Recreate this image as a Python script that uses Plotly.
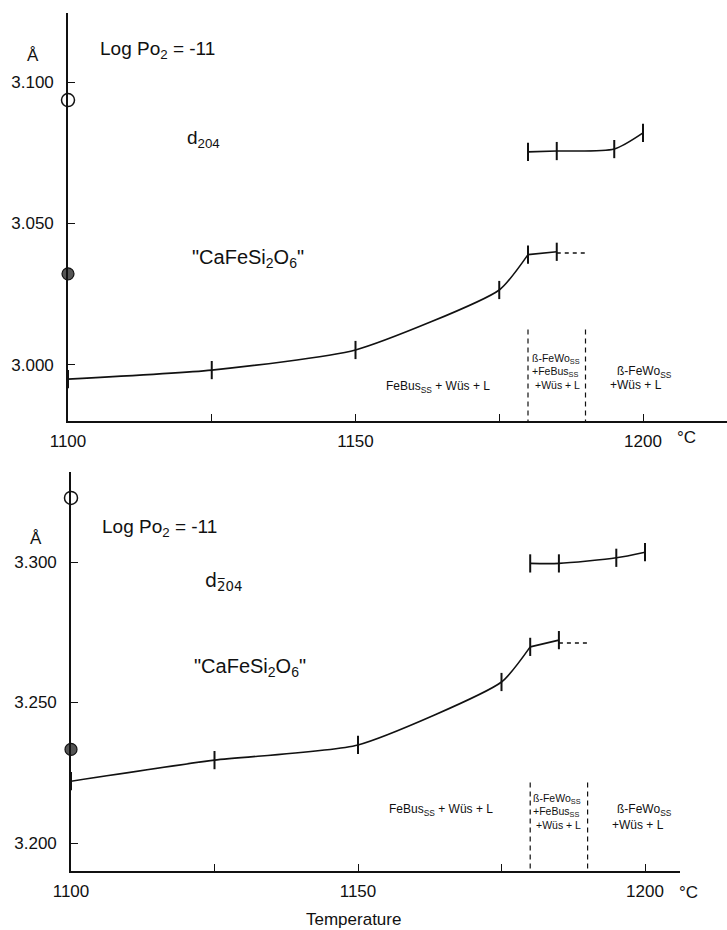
import plotly.graph_objects as go

# ---------------- data ----------------
# top panel: d204
temp_lo_top = [1100, 1125, 1150, 1175, 1180, 1185]
d204_lo = [2.995, 2.9982, 3.0053, 3.0265, 3.039, 3.040]
temp_hi_top = [1180, 1185, 1195, 1200]
d204_hi = [3.0753, 3.0756, 3.0763, 3.082]
temp_ext = [1185, 1190]
d204_ext = [3.0396, 3.0396]
d204_open = 3.0936
d204_filled = 3.0322

# bottom panel: d(-2)04
temp_lo_bot = [1100, 1125, 1150, 1175, 1180, 1185]
dm204_lo = [3.222, 3.2295, 3.2349, 3.2573, 3.2698, 3.2722]
temp_hi_bot = [1180, 1185, 1195, 1200]
dm204_hi = [3.2995, 3.2995, 3.3015, 3.3035]
dm204_ext = [3.2712, 3.2712]
dm204_open = 3.3228
dm204_filled = 3.2333

phase_bounds = [1180, 1190]
x_tickvals = [1100, 1150, 1200]
x_ticktext = ["1100", "1150", "1200"]
x_minor_vals = [1125, 1175]
y_top_vals = [3.000, 3.050, 3.100]
y_top_text = ["3.000", "3.050", "3.100"]
y_bot_vals = [3.200, 3.250, 3.300]
y_bot_text = ["3.200", "3.250", "3.300"]

W, H = 727, 930
FONT = "Liberation Sans"
BLACK = "#111111"

fig = go.Figure()

def add_panel(xa, ya, t_lo, v_lo, t_hi, v_hi, v_ext, v_open, v_filled, bound_top, y_axis_min):
    # lower curve (smooth)
    fig.add_trace(go.Scatter(x=t_lo[:5], y=v_lo[:5], mode="lines",
                             line=dict(color=BLACK, width=1.6, shape="spline", smoothing=0.55),
                             xaxis=xa, yaxis=ya, showlegend=False, hoverinfo="skip"))
    fig.add_trace(go.Scatter(x=t_lo[4:], y=v_lo[4:], mode="lines", line=dict(color=BLACK, width=1.6),
                             xaxis=xa, yaxis=ya, showlegend=False, hoverinfo="skip"))
    fig.add_trace(go.Scatter(x=temp_ext, y=v_ext, mode="lines", line=dict(color=BLACK, width=1.6, dash="4px,4px"),
                             xaxis=xa, yaxis=ya, showlegend=False, hoverinfo="skip"))
    # upper curve
    fig.add_trace(go.Scatter(x=t_hi, y=v_hi, mode="lines",
                             line=dict(color=BLACK, width=1.6, shape="spline", smoothing=0.7),
                             xaxis=xa, yaxis=ya, showlegend=False, hoverinfo="skip"))
    # error bar ticks
    fig.add_trace(go.Scatter(x=t_lo + t_hi, y=v_lo + v_hi, mode="markers",
                             marker=dict(symbol="line-ns", size=13, line=dict(color=BLACK, width=2)),
                             xaxis=xa, yaxis=ya, showlegend=False, hoverinfo="skip", cliponaxis=False))
    # start points
    fig.add_trace(go.Scatter(x=[1100], y=[v_open], mode="markers",
                             marker=dict(symbol="circle", size=13, color="white", line=dict(color=BLACK, width=1.5)),
                             xaxis=xa, yaxis=ya, showlegend=False, hoverinfo="skip", cliponaxis=False))
    fig.add_trace(go.Scatter(x=[1100], y=[v_filled], mode="markers",
                             marker=dict(symbol="circle", size=12, color="#555555", line=dict(color=BLACK, width=1.2)),
                             xaxis=xa, yaxis=ya, showlegend=False, hoverinfo="skip", cliponaxis=False))
    # phase boundaries
    for b in phase_bounds:
        fig.add_trace(go.Scatter(x=[b, b], y=[bound_top, y_axis_min], mode="lines",
                                 line=dict(color=BLACK, width=1.2, dash="5px,4px"),
                                 xaxis=xa, yaxis=ya, showlegend=False, hoverinfo="skip"))

top_ymin, top_ymax = 2.98021, 3.12438
bot_ymin, bot_ymax = 3.19004, 3.33203

add_panel("x", "y", temp_lo_top, d204_lo, temp_hi_top, d204_hi, d204_ext, d204_open, d204_filled, 3.0125, top_ymin)
add_panel("x2", "y2", temp_lo_bot, dm204_lo, temp_hi_bot, dm204_hi, dm204_ext, dm204_open, dm204_filled, 3.2215, bot_ymin)

axis_common = dict(showline=True, linecolor=BLACK, linewidth=1.6, showgrid=False, zeroline=False,
                   ticks="inside", tickcolor=BLACK, tickwidth=1.4, ticklen=7, automargin=False,
                   tickfont=dict(family=FONT, size=17, color=BLACK))
minor_x = dict(tickvals=x_minor_vals, ticks="inside", ticklen=7, tickwidth=1.4, tickcolor=BLACK, showgrid=False)

fig.update_layout(
    width=W, height=H, autosize=False,
    margin=dict(l=0, r=0, t=0, b=0, pad=0),
    paper_bgcolor="white", plot_bgcolor="white",
    xaxis=dict(domain=[68 / W, 1.0], range=[1100, 1100 + 659 / 5.75], anchor="y",
               tickvals=x_tickvals, ticktext=x_ticktext, ticklabelstandoff=4, minor=minor_x, **axis_common),
    yaxis=dict(domain=[1 - 421 / H, 1 - 13 / H], range=[top_ymin, top_ymax], anchor="x",
               tickvals=y_top_vals, ticktext=y_top_text, ticklabelstandoff=9, **axis_common),
    xaxis2=dict(domain=[71 / W, 680 / W], range=[1100, 1100 + 609 / 5.74], anchor="y2",
                tickvals=x_tickvals, ticktext=x_ticktext, ticklabelstandoff=4, minor=minor_x, **axis_common),
    yaxis2=dict(domain=[1 - 871 / H, 1 - 472 / H], range=[bot_ymin, bot_ymax], anchor="x2",
                tickvals=y_bot_vals, ticktext=y_bot_text, ticklabelstandoff=9, **axis_common),
)

def ann(text, x, y, xref, yref, size, xanchor="left", yanchor="middle", family=FONT):
    fig.add_annotation(text=text, x=x, y=y, xref=xref, yref=yref, showarrow=False,
                       xanchor=xanchor, yanchor=yanchor,
                       font=dict(family=family, size=size, color=BLACK))

SS = "<sub>SS</sub>"
PH = 12
BX = 10.5
# top panel texts
ann("Log Po<sub>2</sub> = -11", 1105.2, 3.1113, "x", "y", 19)
ann("d<sub>204</sub>", 1120.3, 3.0800, "x", "y", 19)
ann("\"CaFeSi<sub>2</sub>O<sub>6</sub>\"", 1121.2, 3.0378, "x", "y", 20)
ann("FeBus" + SS + " + Wüs + L", 1155.0, 2.9922, "x", "y", PH)
ann("ß-FeWo" + SS, 1180.3, 3.0020, "x", "y", BX)
ann("+FeBus" + SS, 1180.3, 2.9974, "x", "y", BX)
ann("+Wüs + L", 1180.8, 2.9928, "x", "y", BX)
ann("ß-FeWo" + SS, 1195.1, 2.9975, "x", "y", PH)
ann("+Wüs + L", 1193.9, 2.9929, "x", "y", PH)

# bottom panel texts
ann("Log Po<sub>2</sub> = -11", 1105.05, 3.3121, "x2", "y2", 19)
ann("d<sub>2\u030504</sub>", 1123.0, 3.2930, "x2", "y2", 19, family="DejaVu Sans")
ann("\"CaFeSi<sub>2</sub>O<sub>6</sub>\"", 1121.1, 3.2626, "x2", "y2", 20)
ann("FeBus" + SS + " + Wüs + L", 1155.05, 3.2117, "x2", "y2", PH)
ann("ß-FeWo" + SS, 1180.2, 3.2155, "x2", "y2", BX)
ann("+FeBus" + SS, 1180.2, 3.2109, "x2", "y2", BX)
ann("+Wüs + L", 1180.6, 3.2063, "x2", "y2", BX)
ann("ß-FeWo" + SS, 1194.8, 3.2117, "x2", "y2", PH)
ann("+Wüs + L", 1193.9, 3.2064, "x2", "y2", PH)

# unit labels
ann("Å", 33 / W, 1 - 56 / H, "paper", "paper", 17, xanchor="center")
ann("Å", 36 / W, 1 - 538 / H, "paper", "paper", 17, xanchor="center")
ann("°C", 686 / W, 1 - 437 / H, "paper", "paper", 17, xanchor="center")
ann("°C", 688 / W, 1 - 892 / H, "paper", "paper", 17, xanchor="center")
ann("Temperature", 353 / W, 1 - 919 / H, "paper", "paper", 17, xanchor="center")

fig.write_html("out.html")
